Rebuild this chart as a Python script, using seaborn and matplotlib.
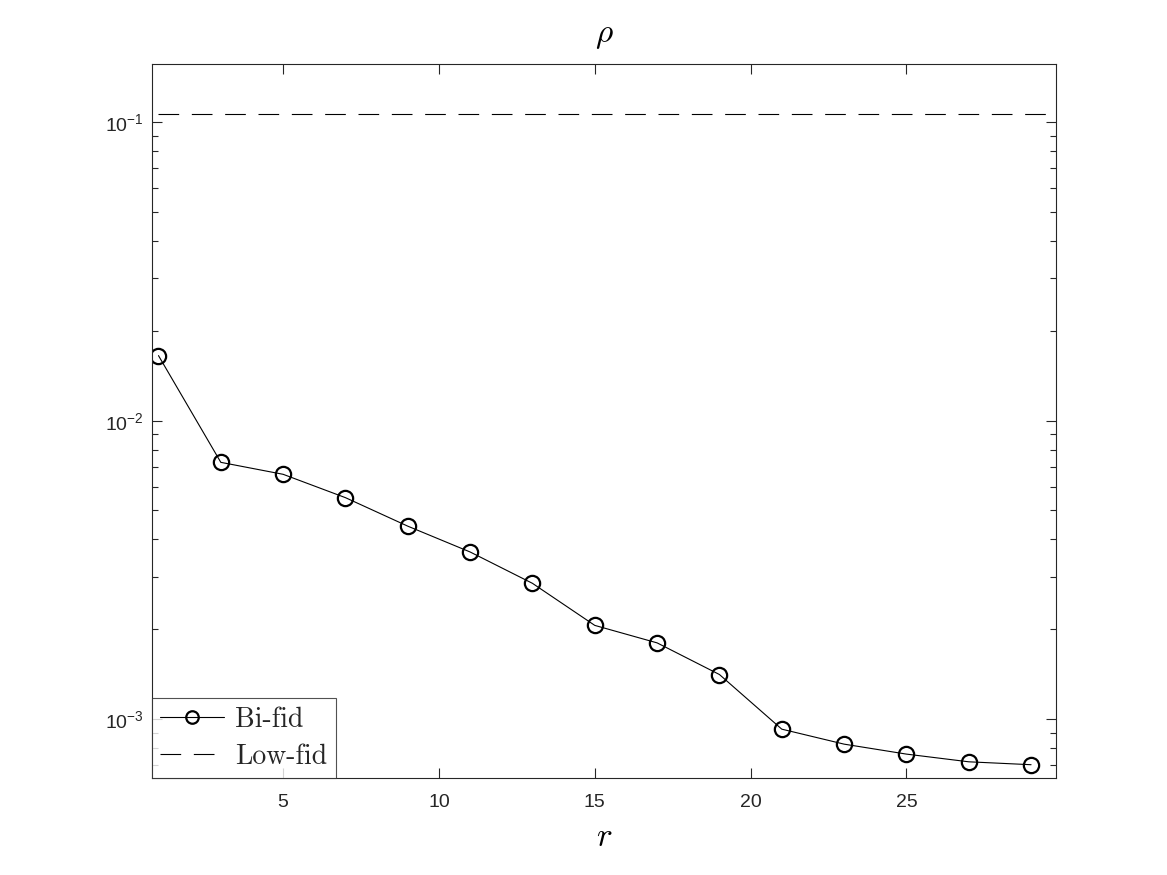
import numpy as np
import pandas as pd
import matplotlib
matplotlib.use("Agg")
import matplotlib.pyplot as plt
import seaborn as sns
from matplotlib.ticker import LogLocator, NullFormatter, FixedLocator

r_vals = [1, 3, 5, 7, 9, 11, 13, 15, 17, 19, 21, 23, 25, 27, 29]
bifid = [0.01652, 0.00725, 0.00661, 0.00552, 0.00443, 0.00363, 0.00285,
         0.00206, 0.00180, 0.00141, 0.000925, 0.000824, 0.000763, 0.000719, 0.000703]
lowfid_x = [1, 29.5]
lowfid = [0.1066, 0.1066]
xticks = [5, 10, 15, 20, 25]

sns.set_theme(style="ticks")
plt.rcParams['font.family'] = ['Liberation Sans', 'DejaVu Sans']
plt.rcParams['mathtext.fontset'] = 'cm'

fig = plt.figure(figsize=(11.67, 8.75), dpi=100)
ax = fig.add_axes([0.1302, 0.1105, 0.7747, 0.816])

df = pd.DataFrame({"r": r_vals, "rho": bifid})
sns.lineplot(data=df, x="r", y="rho", ax=ax, color="black", linewidth=0.8,
             marker="o", markersize=11, markerfacecolor="none",
             markeredgecolor="black", markeredgewidth=1.6, label="Bi-fid")
df2 = pd.DataFrame({"r": lowfid_x, "rho": lowfid})
sns.lineplot(data=df2, x="r", y="rho", ax=ax, color="black", linewidth=0.8,
             dashes=False, label="Low-fid")
ax.lines[-1].set_dashes((18.6, 11.4))

ax.set_yscale("log")
ax.set_xlim(0.79, 29.8)
ax.set_ylim(6.33e-4, 0.1564)
ax.xaxis.set_major_locator(FixedLocator(xticks))
ax.yaxis.set_major_locator(LogLocator(base=10, numticks=10))
ax.yaxis.set_minor_locator(LogLocator(base=10, subs=np.arange(2, 10), numticks=20))
ax.yaxis.set_minor_formatter(NullFormatter())

gray = "#262626"
for s in ax.spines.values():
    s.set_color(gray)
    s.set_linewidth(0.8)
ax.tick_params(axis="both", which="both", direction="in", top=True, right=True,
               colors=gray, labelcolor=gray, width=0.8)
ax.tick_params(axis="both", which="major", length=7, labelsize=14)
ax.tick_params(axis="y", which="minor", length=4)
ax.tick_params(axis="x", pad=11)
ax.tick_params(axis="y", pad=6)

ax.set_xlabel(r"$r$", fontsize=24, color="black", labelpad=8)
ax.set_ylabel("")
ax.set_title(r"$\rho$", fontsize=24, color="black", pad=16)

leg = ax.legend(loc="lower left", prop={"family": "cmr10", "size": 20},
                frameon=True, fancybox=False, borderaxespad=0,
                handlelength=2.3, handletextpad=0.4, borderpad=0.3,
                labelspacing=0.4)
leg.get_frame().set_edgecolor(gray)
leg.get_frame().set_linewidth(0.8)
for h in leg.get_lines():
    h.set_markersize(9)

fig.savefig("out.png", dpi=100, facecolor="white")
